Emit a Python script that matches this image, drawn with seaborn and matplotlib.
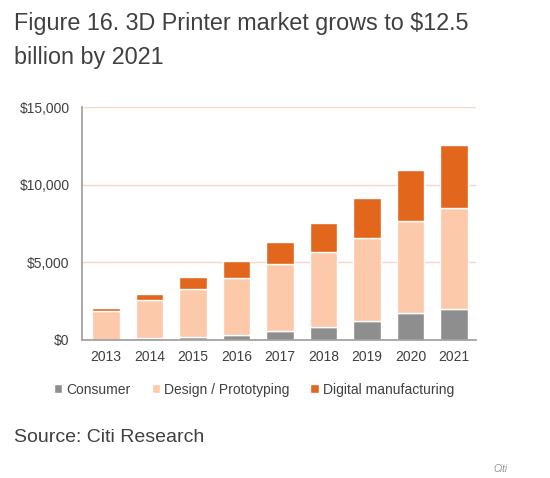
import matplotlib.pyplot as plt
import numpy as np
import pandas as pd
import seaborn as sns

years = ['2013', '2014', '2015', '2016', '2017', '2018', '2019', '2020', '2021']
consumer = [20, 150, 210, 300, 560, 820, 1200, 1760, 2020]
design = [1810, 2430, 3080, 3660, 4320, 4840, 5380, 5920, 6450]
digital = [220, 370, 750, 1140, 1400, 1870, 2560, 3290, 4070]

sns.set_theme(style='white')
plt.rcParams['font.family'] = ['Liberation Sans', 'DejaVu Sans']

df = pd.DataFrame({'year': years, 'Consumer': consumer,
                   'Design / Prototyping': design,
                   'Digital manufacturing': digital})
colors = {'Consumer': '#8e8e8e', 'Design / Prototyping': '#fcc9aa',
          'Digital manufacturing': '#e2661c'}

fig = plt.figure(figsize=(5.5, 4.78), dpi=100)
ax = fig.add_axes([0.149, 0.289, 0.716, 0.487])

bottom = np.zeros(len(years))
for col in ['Consumer', 'Design / Prototyping', 'Digital manufacturing']:
    sns.barplot(data=df, x='year', y=col, color=colors[col], bottom=bottom,
                width=0.63, ax=ax, label=col, saturation=1)
    bottom = bottom + df[col].values

ax.set_ylim(0, 15000)
ax.set_xlim(-0.55, 8.5)
ax.set_yticks([0, 5000, 10000, 15000])
ax.set_yticklabels(['$0', '$5,000', '$10,000', '$15,000'])
ax.yaxis.grid(True, color='#f6d6c8', linewidth=1)
ax.set_axisbelow(True)
ax.set_xlabel('')
ax.set_ylabel('')
for s in ['top', 'right']:
    ax.spines[s].set_visible(False)
ax.spines['left'].set_color('#a0a0a0')
ax.spines['bottom'].set_color('#a0a0a0')
ax.tick_params(axis='both', colors='#404040', labelsize=10, length=0)
ax.tick_params(axis='y', pad=5)
ax.tick_params(axis='x', pad=7)
ax.set_xticks(np.arange(-0.5, 8.5, 1), minor=True)
ax.tick_params(axis='x', which='minor', length=4, color='#a0a0a0', direction='out')
ax.tick_params(axis='y', which='major', length=4, color='#a0a0a0')

leg = ax.legend(loc='upper center', bbox_to_anchor=(0.437, -0.13), ncol=3,
                frameon=False, fontsize=10, handlelength=0.6, handleheight=0.6,
                handletextpad=0.3, columnspacing=1.5)
for t in leg.get_texts():
    t.set_color('#404040')

fig.text(0.025, 0.95, 'Figure 16. 3D Printer market grows to $12.5',
         fontsize=16.8, color='#404040', va='center')
fig.text(0.025, 0.879, 'billion by 2021',
         fontsize=16.8, color='#404040', va='center')
fig.text(0.025, 0.085, 'Source: Citi Research', fontsize=14, color='#404040', va='center')
fig.text(0.897, 0.018, 'Citi', fontsize=7, color='#909090', style='italic', va='center')

fig.savefig('out.png', dpi=100)
